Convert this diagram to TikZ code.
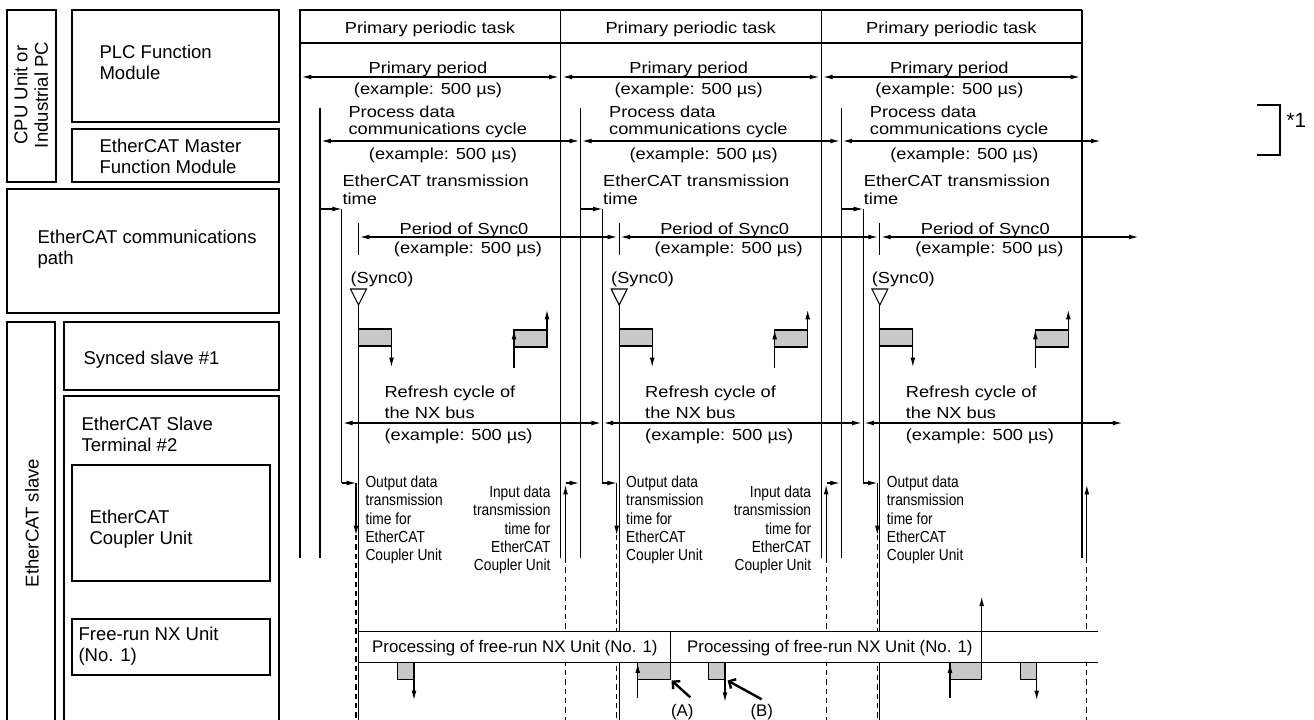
\documentclass[tikz,border=0pt]{standalone}
\usepackage{fontspec}
\setmainfont{Liberation Sans}
\newfontfamily\widesans{Liberation Sans}[FakeStretch=1.14]
\newfontfamily\narrowsans{Liberation Sans}[FakeStretch=0.86]
\usetikzlibrary{arrows.meta}

\definecolor{slotgray}{RGB}{200,200,200}

\tikzset{
  unitbox/.style={draw,line width=1.1pt},
  sidetext/.style={font=\fontsize{13.9}{15.4}\selectfont,inner sep=0pt,align=left},
  timetext/.style={font=\widesans\fontsize{12}{13.2}\selectfont,inner sep=0pt,align=left},
  nxtext/.style={font=\widesans\fontsize{12}{15.75}\selectfont,inner sep=0pt,align=left},
  proctext/.style={font=\fontsize{12.6}{14}\selectfont,inner sep=0pt},
  notetext/.style={font=\narrowsans\fontsize{12}{13.75}\selectfont,inner sep=0pt},
  slot/.style={draw,fill=slotgray},
  trail/.style={dash pattern=on 4pt off 3pt},
  pointer/.style={-{Straight Barb[length=4pt,width=8pt]},line width=1.8pt}
}

\begin{document}
\begin{tikzpicture}[x=0.75pt,y=-0.75pt,line width=0.8pt,>={Latex[length=7pt,width=3.6pt]}]
  \useasboundingbox (0,0) rectangle (1314,720);

  % units on the left
  \draw[unitbox] (7,10) rectangle (56,182);
  \draw[unitbox] (72,10) rectangle (279,122);
  \draw[unitbox] (72,129) rectangle (279,182);
  \draw[unitbox] (7,189) rectangle (279,313);
  \draw[unitbox] (7,730) -- (7,322) -- (55,322) -- (55,730);
  \draw[unitbox] (64,322) rectangle (279,390);
  \draw[unitbox] (64,730) -- (64,396) -- (279,396) -- (279,730);
  \draw[unitbox] (72,465) rectangle (270,581);
  \draw[unitbox] (72,619) rectangle (270,675);
  \node[sidetext,rotate=90,align=center] (cpu) at (31,95) {CPU Unit or\\Industrial PC};
  \node[sidetext,anchor=north west] (plc) at (99,45) {PLC Function\\Module};
  \node[sidetext,anchor=north west] (master) at (99,139) {EtherCAT Master\\Function Module};
  \node[sidetext,anchor=north west] (path) at (37,230) {EtherCAT communications\\path};
  \node[sidetext,rotate=90] (slave) at (32,523) {EtherCAT slave};
  \node[sidetext,anchor=base west] (synced) at (83,364) {Synced slave \#1};
  \node[sidetext,anchor=north west] (terminal) at (81,417) {EtherCAT Slave\\Terminal \#2};
  \node[sidetext,anchor=north west] (coupler) at (89,510) {EtherCAT\\Coupler Unit};
  \node[sidetext,anchor=north west] (freerun) at (78,627) {Free-run NX Unit\\(No. 1)};

  % three primary periods
  \draw (299,10) -- (1082,10) (299,43) -- (1082,43) (1082,10) -- (1082,558);
  \foreach \k in {0,1,2}{
    \pgfmathsetmacro{\xo}{300+260.67*\k}
    \draw (\xo,10) -- (\xo,558);
    \node[timetext,anchor=base] (task\k) at (\xo+130,34) {Primary periodic task};
    \draw[<->] (\xo+2,77) -- (\xo+258.5,77);
    \node[timetext,anchor=base] (prim\k) at (\xo+128,73.5) {Primary period};
    \node[timetext,anchor=base] (primex\k) at (\xo+128,95) {(example: 500 µs)};
    % process data communications cycle
    \draw (\xo+20,108) -- (\xo+20,558);
    \draw[<->] (\xo+21.5,141) -- (\xo+279,141);
    \node[timetext,anchor=north west] (pdc\k) at (\xo+48,105) {Process data\\communications cycle};
    \node[timetext,anchor=base] (pdcex\k) at (\xo+143,160) {(example: 500 µs)};
    % EtherCAT transmission
    \draw[->] (\xo+20,209) -- (\xo+41.7,209);
    \draw (\xo+41.7,209) -- (\xo+41.7,483);
    \node[timetext,anchor=north west] (ect\k) at (\xo+42,174.5) {EtherCAT transmission\\time};
    % Sync0
    \draw (\xo+58.5,223) -- (\xo+58.5,255);
    \draw[<->] (\xo+60,237) -- (\xo+317,237);
    \node[timetext,anchor=base] (syncp\k) at (\xo+164,235) {Period of Sync0};
    \node[timetext,anchor=base] (syncex\k) at (\xo+168,253.5) {(example: 500 µs)};
    \node[timetext,anchor=base west] (sync\k) at (\xo+50,283.3) {(Sync0)};
    \draw (\xo+50.5,289) -- (\xo+66.5,289) -- (\xo+58.5,305) -- cycle;
    \draw (\xo+58.5,305) -- (\xo+58.5,730);
    % synced slave #1
    \draw[slot] (\xo+58.5,329) rectangle (\xo+91.5,346);
    \draw[->] (\xo+91.5,346) -- (\xo+91.5,367);
    \draw[slot] (\xo+214,330) rectangle (\xo+247,347);
    \draw[->] (\xo+214,368) -- (\xo+214,330);
    \draw[->] (\xo+247,330) -- (\xo+247,310);
    % NX bus
    \draw[<->] (\xo+43.2,423) -- (\xo+300.8,423);
    \node[nxtext,anchor=north west] (nxb\k) at (\xo+84,385) {Refresh cycle of\\the NX bus};
    \node[timetext,anchor=base west] (nxbex\k) at (\xo+84,440) {(example: 500 µs)};
    % Coupler Unit output
    \draw[->] (\xo+41.7,483) -- (\xo+56,483);
    \draw[->] (\xo+56,483) -- (\xo+56,535);
    \draw[trail] (\xo+56,535) -- (\xo+56,730);
    \node[notetext,anchor=north west,align=left] (outd\k) at (\xo+65,475.5) {Output data\\transmission\\time for\\EtherCAT\\Coupler Unit};
    % Coupler Unit input
    \draw[->] (\xo+265.5,558) -- (\xo+265.5,485);
    \draw[trail] (\xo+265.5,558) -- (\xo+265.5,730);
  }
  \foreach \k in {0,1}{
    \pgfmathsetmacro{\xo}{300+260.67*\k}
    \draw[->] (\xo+266,483) -- (\xo+279,483);
    \node[notetext,anchor=north east,align=right] (ind\k) at (\xo+251,485.5) {Input data\\transmission\\time for\\EtherCAT\\Coupler Unit};
  }

  % free-run NX Unit processing
  \fill[white] (359.3,631.7) rectangle (1098,662.7);
  \draw (358.8,631.7) -- (1098,631.7) (358.8,662.7) -- (1098,662.7) (670.7,631.7) -- (670.7,662.7);
  \node[proctext,anchor=base west] (proc1) at (371.7,652.7) {Processing of free-run NX Unit (No. 1)};
  \node[proctext,anchor=base west] (proc2) at (686.7,652.7) {Processing of free-run NX Unit (No. 1)};
  \draw[slot] (397.3,662.7) rectangle (414,679.3);
  \draw[->] (414,679.3) -- (414,700);
  \draw[slot] (637.7,662.7) rectangle (670.7,679.3);
  \draw[->] (637.7,698) -- (637.7,663.5);
  \draw[slot] (708.3,662.7) rectangle (725,679.3);
  \draw[->] (725,679.3) -- (725,701.7);
  \draw[slot] (950,662.7) rectangle (981.7,679.3);
  \draw[->] (950,698.3) -- (950,663.5);
  \draw[->] (981.7,679.3) -- (981.7,596.7);
  \draw[slot] (1020.7,662.7) rectangle (1036.7,679.3);
  \draw[->] (1036.7,679.3) -- (1036.7,700);
  \node[proctext,anchor=base] (marka) at (682.3,716) {(A)};
  \node[proctext,anchor=base] (markb) at (761.7,716) {(B)};
  \coordinate (cornera) at (671.5,680.5);
  \coordinate (cornerb) at (727.5,680.5);
  \draw[pointer] (marka.north) ++(8,-6) -- (cornera);
  \draw[pointer] (markb.north) ++(0,-4) -- (cornerb);

  % note
  \draw[line width=1.5pt] (1256.7,105) -- (1280,105) -- (1280,155) -- (1256.7,155);
  \node[font=\fontsize{15.5}{16}\selectfont,inner sep=0pt,anchor=base west] (note) at (1286,128) {*1};
\end{tikzpicture}
\end{document}
